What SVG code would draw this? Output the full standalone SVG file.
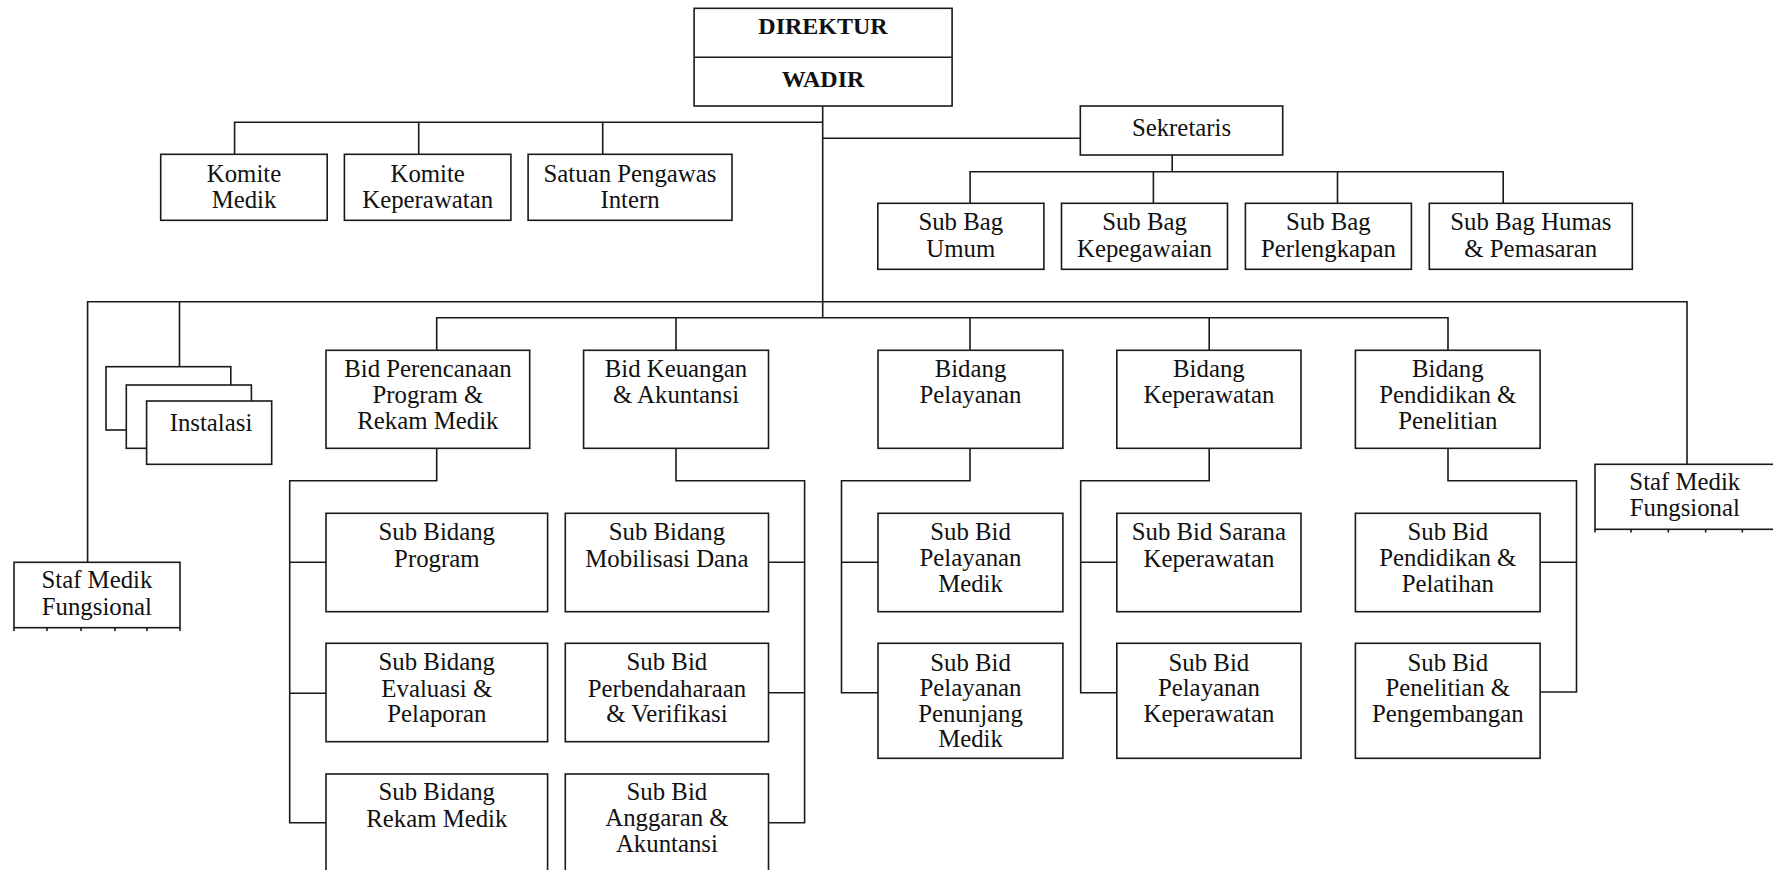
<svg xmlns="http://www.w3.org/2000/svg" width="1773" height="870" viewBox="0 0 1773 870">
<style>
rect{fill:#fff;stroke:#1a1a1a;stroke-width:1.6}
.c path,.c line{fill:none;stroke:#1a1a1a;stroke-width:1.6}
text{font-family:'Liberation Serif','Tinos','Times New Roman','DejaVu Serif',serif;font-size:24.8px;font-weight:normal;fill:#111;text-anchor:middle}
text.b{font-weight:bold;font-size:24px}
</style>
<rect x="0" y="0" width="1773" height="870" style="fill:#fff;stroke:none"/>
<g class="c" id="connectors">
<path d="M822.7 106V317.7"/>
<path d="M234.6 154.3V122.3H822.7M418.7 122.3V154.3M602.7 122.3V154.3"/>
<path d="M822.7 138.3H1080.3"/>
<path d="M1172.2 155V171.7M970.1 203.3V171.7H1503.2V203.3M1153.4 171.7V203.3M1337.5 171.7V203.3"/>
<path d="M87.6 562.3V301.7H1687V464M179.5 301.7V366.7"/>
<path d="M436.7 350.3V317.7H1448V350.3M676 317.7V350.3M970 317.7V350.3M1209.2 317.7V350.3"/>
<path d="M436.7 448.3V480.7H289.7V822.7H326M289.7 562.3H326M289.7 693.3H326"/>
<path d="M676 448.3V480.7H804.6V822.7H768.5M768.5 562.3H804.6M768.5 692.7H804.6"/>
<path d="M970 448.3V480.7H841.5V692.7H878M841.5 562.3H878"/>
<path d="M1209.2 448.3V480.7H1080.7V692.7H1116.8M1080.7 562.3H1116.8"/>
<path d="M1448 448.3V480.7H1576.5V692H1540.1M1540.1 562.3H1576.5"/>
</g>
<g id="direktur">
<rect x="694.1" y="8.3" width="258" height="97.7"/>
<line x1="694.1" y1="57.3" x2="952.1" y2="57.3" style="stroke:#1a1a1a;stroke-width:1.6"/>
<text class="b" x="823" y="34.3">DIREKTUR</text>
<text class="b" x="823" y="87.3">WADIR</text>
</g>
<g id="komite-medik"><rect x="160.7" y="154.3" width="166.5" height="66"/><text x="244" y="181.7">Komite</text><text x="244" y="208.3">Medik</text></g>
<g id="komite-keperawatan"><rect x="344.4" y="154.3" width="166.5" height="66"/><text x="427.7" y="181.7">Komite</text><text x="427.7" y="208.3">Keperawatan</text></g>
<g id="satuan-pengawas"><rect x="528.1" y="154.3" width="203.9" height="66"/><text x="630" y="181.7">Satuan Pengawas</text><text x="630" y="208.3">Intern</text></g>
<g id="sekretaris"><rect x="1080.3" y="106" width="202.4" height="49"/><text x="1181.5" y="136">Sekretaris</text></g>
<g id="sub-bag-umum"><rect x="877.8" y="203.3" width="166.1" height="66"/><text x="960.8" y="230">Sub Bag</text><text x="960.8" y="256.7">Umum</text></g>
<g id="sub-bag-kepegawaian"><rect x="1061.5" y="203.3" width="166" height="66"/><text x="1144.5" y="230">Sub Bag</text><text x="1144.5" y="256.7">Kepegawaian</text></g>
<g id="sub-bag-perlengkapan"><rect x="1245.4" y="203.3" width="166" height="66"/><text x="1328.4" y="230">Sub Bag</text><text x="1328.4" y="256.7">Perlengkapan</text></g>
<g id="sub-bag-humas"><rect x="1429.3" y="203.3" width="203" height="66"/><text x="1530.8" y="230">Sub Bag Humas</text><text x="1530.8" y="256.7">&amp; Pemasaran</text></g>
<g id="instalasi">
<rect x="106" y="366.7" width="124.8" height="63.3"/>
<rect x="126.3" y="385" width="125.1" height="63.3"/>
<rect x="146.6" y="401" width="125.1" height="63.3"/>
<text x="211" y="430.7">Instalasi</text>
</g>
<g id="staf-medik-kiri">
<rect x="14" y="562.3" width="166" height="65.4"/>
<path d="M14 627.7V631M47 627.7V631M81 627.7V631M115 627.7V631M147 627.7V631M180 627.7V631" style="stroke:#1a1a1a;stroke-width:1.6"/>
<text x="96.9" y="587.7">Staf Medik</text><text x="96.9" y="615">Fungsional</text>
</g>
<g id="staf-medik-kanan">
<rect x="1595" y="464.3" width="181" height="65"/>
<path d="M1595 529.3V532.5M1631 529.3V532.5M1668.3 529.3V532.5M1705.7 529.3V532.5M1742.3 529.3V532.5" style="stroke:#1a1a1a;stroke-width:1.6"/>
<text x="1684.8" y="490">Staf Medik</text><text x="1684.8" y="516">Fungsional</text>
</g>
<g id="bid-perencanaan"><rect x="326" y="350.3" width="203.7" height="98"/><text x="427.9" y="377.3">Bid Perencanaan</text><text x="427.9" y="403">Program &amp;</text><text x="427.9" y="428.7">Rekam Medik</text></g>
<g id="bid-keuangan"><rect x="583.6" y="350.3" width="184.9" height="98"/><text x="676" y="377.3">Bid Keuangan</text><text x="676" y="403.3">&amp; Akuntansi</text></g>
<g id="bidang-pelayanan"><rect x="878" y="350.3" width="184.9" height="98"/><text x="970.5" y="377.3">Bidang</text><text x="970.5" y="403.3">Pelayanan</text></g>
<g id="bidang-keperawatan"><rect x="1116.8" y="350.3" width="184.2" height="98"/><text x="1208.9" y="377.3">Bidang</text><text x="1208.9" y="403.3">Keperawatan</text></g>
<g id="bidang-pendidikan"><rect x="1355.4" y="350.3" width="184.7" height="98"/><text x="1447.8" y="377.3">Bidang</text><text x="1447.8" y="403">Pendidikan &amp;</text><text x="1447.8" y="428.7">Penelitian</text></g>
<g id="sub-bidang-program"><rect x="326" y="513.3" width="221.6" height="98.4"/><text x="436.8" y="540">Sub Bidang</text><text x="436.8" y="566.7">Program</text></g>
<g id="sub-bidang-evaluasi"><rect x="326" y="643.3" width="221.6" height="98.4"/><text x="436.8" y="670">Sub Bidang</text><text x="436.8" y="696.7">Evaluasi &amp;</text><text x="436.8" y="722">Pelaporan</text></g>
<g id="sub-bidang-rekam-medik"><rect x="326" y="774" width="221.6" height="110"/><text x="436.8" y="800">Sub Bidang</text><text x="436.8" y="826.7">Rekam Medik</text></g>
<g id="sub-bidang-mobilisasi"><rect x="565.3" y="513.3" width="203.2" height="98.4"/><text x="666.9" y="540">Sub Bidang</text><text x="666.9" y="566.7">Mobilisasi Dana</text></g>
<g id="sub-bid-perbendaharaan"><rect x="565.3" y="643.3" width="203.2" height="98.4"/><text x="666.9" y="670">Sub Bid</text><text x="666.9" y="696.7">Perbendaharaan</text><text x="666.9" y="722">&amp; Verifikasi</text></g>
<g id="sub-bid-anggaran"><rect x="565.3" y="774" width="203.2" height="110"/><text x="666.9" y="800">Sub Bid</text><text x="666.9" y="826">Anggaran &amp;</text><text x="666.9" y="851.7">Akuntansi</text></g>
<g id="sub-bid-pelayanan-medik"><rect x="878" y="513.3" width="184.9" height="98.4"/><text x="970.5" y="540">Sub Bid</text><text x="970.5" y="566">Pelayanan</text><text x="970.5" y="592">Medik</text></g>
<g id="sub-bid-penunjang"><rect x="878" y="643.3" width="184.9" height="115"/><text x="970.5" y="670.7">Sub Bid</text><text x="970.5" y="696.3">Pelayanan</text><text x="970.5" y="721.7">Penunjang</text><text x="970.5" y="746.5">Medik</text></g>
<g id="sub-bid-sarana"><rect x="1116.8" y="513.3" width="184.2" height="98.4"/><text x="1208.9" y="540">Sub Bid Sarana</text><text x="1208.9" y="566.7">Keperawatan</text></g>
<g id="sub-bid-pelayanan-keperawatan"><rect x="1116.8" y="643.3" width="184.2" height="115"/><text x="1208.9" y="670.7">Sub Bid</text><text x="1208.9" y="696.3">Pelayanan</text><text x="1208.9" y="722">Keperawatan</text></g>
<g id="sub-bid-pendidikan"><rect x="1355.4" y="513.3" width="184.7" height="98.4"/><text x="1447.8" y="540">Sub Bid</text><text x="1447.8" y="566">Pendidikan &amp;</text><text x="1447.8" y="592">Pelatihan</text></g>
<g id="sub-bid-penelitian"><rect x="1355.4" y="643.3" width="184.7" height="115"/><text x="1447.8" y="670.7">Sub Bid</text><text x="1447.8" y="696.3">Penelitian &amp;</text><text x="1447.8" y="722">Pengembangan</text></g>
</svg>
